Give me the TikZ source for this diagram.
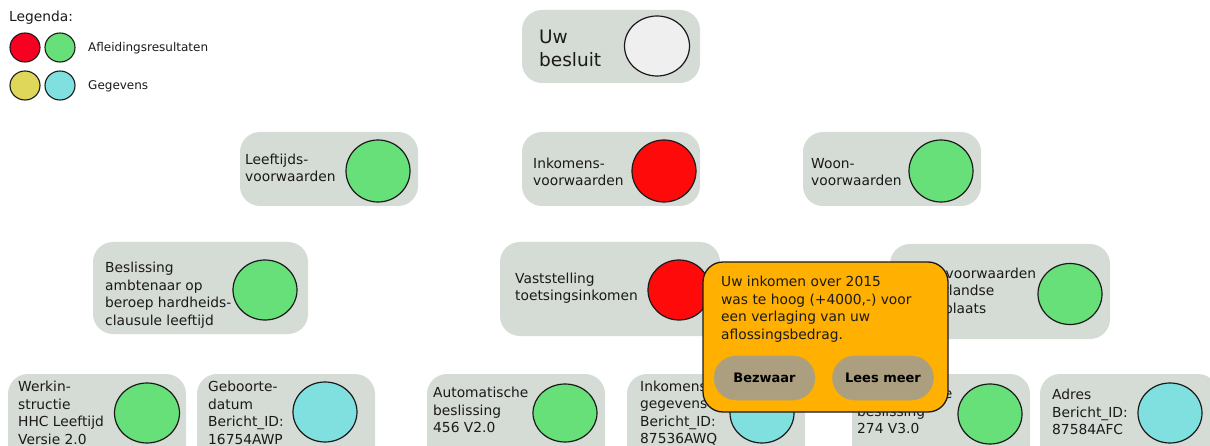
\documentclass[tikz,border=0pt]{standalone}
\usepackage{fontspec}
\setmainfont{DejaVu Sans}
\usetikzlibrary{shapes.geometric}
\definecolor{cardbg}{HTML}{D5DBD5}
\definecolor{okgreen}{HTML}{68E07A}
\definecolor{nored}{HTML}{FF0A0A}
\definecolor{legred}{HTML}{F70022}
\definecolor{datacyan}{HTML}{80DFDF}
\definecolor{datayellow}{HTML}{DFD75A}
\definecolor{pending}{HTML}{EEEFEE}
\definecolor{popupbg}{HTML}{FFB000}
\definecolor{btnbg}{HTML}{AC9F7F}
\definecolor{ink}{HTML}{1A1A1A}
\begin{document}
\begin{tikzpicture}[x=1pt,y=-1pt,
  card/.style={fill=cardbg, rounded corners=20pt, inner sep=0pt},
  lbl/.style={font=\fontsize{13.8}{17.5}\selectfont, align=left, inner sep=0pt, text=ink, anchor=west},
  biglbl/.style={font=\fontsize{18.5}{23}\selectfont, align=left, inner sep=0pt, text=ink, anchor=west},
  leglbl/.style={font=\fontsize{12}{14}\selectfont, inner sep=0pt, text=ink, anchor=west},
  lamp/.style={ellipse, draw=ink, line width=1.2pt, minimum width=64pt, minimum height=61pt, inner sep=0pt},
  leglamp/.style={ellipse, draw=ink, line width=1.1pt, minimum width=30pt, minimum height=29pt, inner sep=0pt},
  popupbox/.style={fill=popupbg, draw=ink, line width=1.3pt, rounded corners=20pt, inner sep=0pt},
  btnbox/.style={fill=btnbg, draw=btnbg!85!popupbg, line width=0.6pt, rounded corners=22pt, inner sep=0pt,
    minimum width=101pt, minimum height=44pt, font=\bfseries\fontsize{13}{15}\selectfont, text=black}]
\useasboundingbox (0,0) rectangle (1210,446);
\clip (0,0) rectangle (1210,446);

% legend
\node[lbl] (legtitle) at (9,18) {Legenda:};
\node[leglamp, fill=legred] (legred) at (25,47.5) {};
\node[leglamp, fill=okgreen] (leggreen) at (60,47.5) {};
\node[leglamp, fill=datayellow] (legyellow) at (25,85.5) {};
\node[leglamp, fill=datacyan] (legcyan) at (60,85.5) {};
\node[leglbl] (legderived) at (88,48) {Afleidingsresultaten};
\node[leglbl] (legdata) at (88,86) {Gegevens};

% top: decision
\node[card, minimum width=178pt, minimum height=73pt] (besluit) at (611,46.5) {};
\node[biglbl] (besluittxt) at (539,48) {Uw\\besluit};
\node[lamp, fill=pending, minimum width=65pt, minimum height=60pt] (besluitlamp) at (657,46) {};

% second row: conditions
\node[card, minimum width=178pt, minimum height=74pt] (leeftijd) at (329,169) {};
\node[lbl] (leeftijdtxt) at (245,168) {Leeftijds-\\voorwaarden};
\node[lamp, fill=okgreen, minimum height=62pt] (leeftijdlamp) at (378,171) {};

\node[card, minimum width=178pt, minimum height=74pt] (inkomen) at (611,169) {};
\node[lbl] (inkomentxt) at (533,172) {Inkomens-\\voorwaarden};
\node[lamp, fill=nored, minimum height=62pt] (inkomenlamp) at (664,171) {};

\node[card, minimum width=178pt, minimum height=74pt] (woon) at (892,169) {};
\node[lbl] (woontxt) at (811,172) {Woon-\\voorwaarden};
\node[lamp, fill=okgreen, minimum height=62pt] (woonlamp) at (941,171) {};

% third row
\node[card, minimum width=215pt, minimum height=92pt] (hardheid) at (200.5,288) {};
\node[lbl] (hardheidtxt) at (105,295) {Beslissing\\ambtenaar op\\beroep hardheids-\\clausule leeftijd};
\node[lamp, fill=okgreen, minimum height=60pt] (hardheidlamp) at (265,290) {};

\node[card, minimum width=220pt, minimum height=94pt] (toetsing) at (610,289) {};
\node[lbl] (toetsingtxt) at (515,288) {Vaststelling\\toetsingsinkomen};
\node[lamp, fill=nored, minimum width=62pt, minimum height=60pt] (toetsinglamp) at (679,290) {};

\node[card, minimum width=220pt, minimum height=95pt] (woonplaats) at (1000,291.5) {};
\node[lbl] (woonplaatstxt) at (907,292) {Woonvoorwaarden\\Nederlandse\\woonplaats};
\node[lamp, fill=okgreen] (woonplaatslamp) at (1070,294) {};

% bottom row: sources
\node[card, minimum width=178pt, minimum height=92pt] (werkinstr) at (97,420) {};
\node[lbl] (werkinstrtxt) at (18,413) {Werkin-\\structie\\HHC Leeftijd\\Versie 2.0};
\node[lamp, fill=okgreen, minimum width=65pt, minimum height=60pt] (werkinstrlamp) at (147,413) {};

\node[card, minimum width=178pt, minimum height=92pt] (geboorte) at (286,420) {};
\node[lbl] (geboortetxt) at (208,413) {Geboorte-\\datum\\Bericht\_ID:\\16754AWP};
\node[lamp, fill=datacyan, minimum height=60pt] (geboortelamp) at (325,412) {};

\node[card, minimum width=178pt, minimum height=92pt] (auto456) at (516,420) {};
\node[lbl] (auto456txt) at (433,410) {Automatische\\beslissing\\456 V2.0};
\node[lamp, fill=okgreen, minimum height=58pt] (auto456lamp) at (565,413) {};

\node[card, minimum width=178pt, minimum height=92pt] (inkgeg) at (716,420) {};
\node[lbl] (inkgegtxt) at (640,413) {Inkomens-\\gegevens\\Bericht\_ID:\\87536AWQ};
\node[lamp, fill=datacyan, minimum height=60pt] (inkgeglamp) at (762,413) {};

\node[card, minimum width=178pt, minimum height=92pt] (auto274) at (941,420) {};
\node[lbl] (auto274txt) at (857,411) {Automatische\\beslissing\\274 V3.0};
\node[lamp, fill=okgreen, minimum height=60pt] (auto274lamp) at (990,414) {};

\node[card, minimum width=178pt, minimum height=92pt] (adres) at (1129,420) {};
\node[lbl] (adrestxt) at (1052,412) {Adres\\Bericht\_ID:\\87584AFC};
\node[lamp, fill=datacyan, minimum height=60pt] (adreslamp) at (1170,413) {};

% explanation popup
\node[popupbox, minimum width=245pt, minimum height=150pt] (popup) at (825.5,337) {};
\node[lbl] (popuptxt) at (721,309) {Uw inkomen over 2015\\was te hoog (+4000,-) voor\\een verlaging van uw\\aflossingsbedrag.};
\node[btnbox] (bezwaar) at (764.5,378) {Bezwaar};
\node[btnbox] (leesmeer) at (883,378) {Lees meer};
\end{tikzpicture}
\end{document}
